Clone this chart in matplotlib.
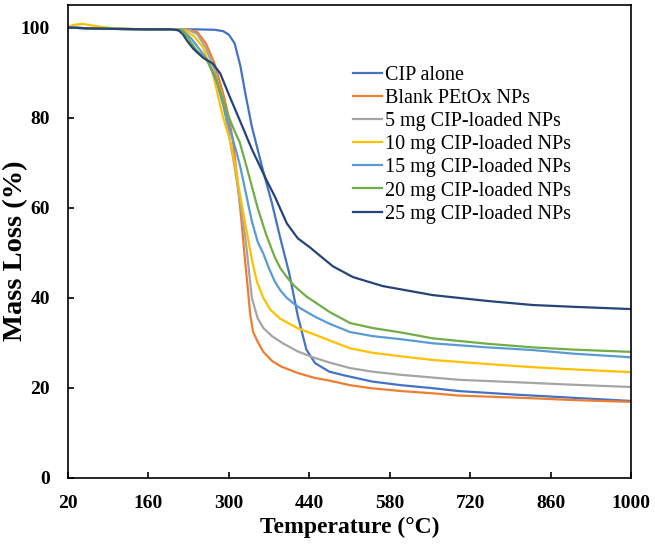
import matplotlib
matplotlib.use("Agg")
import matplotlib.pyplot as plt

# TGA curves (temperature in degC, mass in %)
t_cip = [20, 60, 100, 160, 200, 240, 275, 290, 300, 310, 320, 330, 340, 350, 360, 375, 390,
         405, 420, 435, 450, 475, 500, 550, 600, 650, 700, 800, 900, 1000]
m_cip = [100, 99.8, 99.7, 99.6, 99.6, 99.6, 99.5, 99.2, 98.4, 96.5, 91.5, 84.5, 78, 73, 68,
         61, 53, 45.5, 36, 28.5, 25.5, 23.6, 22.8, 21.4, 20.6, 20, 19.3, 18.5, 17.8, 17.1]

t_blank = [20, 60, 100, 160, 200, 230, 245, 260, 275, 290, 300, 307, 315, 322, 328, 333, 337,
           342, 350, 360, 375, 390, 420, 450, 476, 511, 550, 600, 655, 700, 829, 900, 1000]
m_blank = [100, 99.8, 99.7, 99.6, 99.6, 99.5, 99, 96.5, 92, 85.4, 80, 75, 66, 57, 48.5, 42,
           36.5, 32.5, 30.3, 28, 26, 24.8, 23.3, 22.2, 21.6, 20.6, 19.9, 19.3, 18.8, 18.3, 17.7,
           17.3, 16.9]

t_5mg = [20, 60, 100, 160, 200, 230, 245, 260, 275, 290, 300, 310, 320, 330, 335, 340, 350,
         360, 375, 394, 420, 446, 476, 511, 550, 600, 655, 700, 829, 900, 1000]
m_5mg = [100, 99.8, 99.7, 99.6, 99.6, 99.5, 98.5, 95.5, 90.5, 83, 76.5, 69, 61, 52, 46, 40,
         35.5, 33.3, 31.5, 29.9, 28.1, 26.8, 25.6, 24.4, 23.6, 22.9, 22.3, 21.8, 21.1, 20.7, 20.2]

t_10mg = [20, 30, 45, 60, 80, 100, 160, 200, 225, 240, 255, 272, 290, 302, 310, 320, 330, 340,
          349, 360, 372, 390, 419, 450, 476, 511, 550, 600, 655, 750, 829, 900, 1000]
m_10mg = [100, 100.6, 100.8, 100.5, 100.1, 99.8, 99.6, 99.6, 99.3, 98, 95.6, 89.8, 80, 75,
          70, 62.5, 55.5, 48.5, 43.5, 40, 37.4, 35.3, 33.3, 31.8, 30.5, 28.8, 27.8, 27, 26.2,
          25.3, 24.6, 24.1, 23.5]

t_15mg = [20, 60, 100, 160, 200, 220, 235, 250, 265, 280, 295, 305, 314, 320, 330, 340, 350,
          360, 370, 380, 390, 400, 412, 424, 450, 476, 511, 550, 600, 655, 750, 829, 900, 1000]
m_15mg = [100, 99.8, 99.7, 99.6, 99.6, 99.3, 97.5, 95, 92.2, 87.5, 80.5, 76, 72, 69, 63,
          57, 52.5, 49.8, 46.5, 43.6, 41.6, 40.1, 38.8, 37.7, 35.8, 34.2, 32.4, 31.5, 30.8,
          29.9, 29, 28.4, 27.6, 26.8]

t_20mg = [20, 60, 100, 160, 200, 220, 244, 262, 279, 297, 310, 319, 330, 350, 365, 380, 390,
          401, 412, 424, 436, 476, 511, 550, 600, 655, 750, 829, 900, 1000]
m_20mg = [100, 99.8, 99.7, 99.6, 99.6, 99.3, 94.9, 92.7, 88.2, 81, 77, 74.5, 69.5, 60, 54,
          49, 46.5, 44.6, 42.9, 41.5, 40.2, 36.8, 34.4, 33.3, 32.3, 31, 29.8, 29, 28.5, 28]

t_25mg = [20, 60, 100, 160, 200, 212, 220, 227, 238, 255, 272, 285, 302, 319, 340, 366, 380,
          401, 420, 441, 459, 481, 516, 568, 655, 750, 829, 900, 1000]
m_25mg = [100, 99.8, 99.7, 99.6, 99.6, 99.4, 98.5, 97.1, 95.3, 93.3, 92, 89.8, 84.5, 79.4,
          73, 66, 62.5, 56.5, 53.2, 51.2, 49.3, 47, 44.6, 42.6, 40.6, 39.3, 38.4, 38, 37.5]

labels = ["CIP alone", "Blank PEtOx NPs", "5 mg CIP-loaded NPs", "10 mg CIP-loaded NPs",
          "15 mg CIP-loaded NPs", "20 mg CIP-loaded NPs", "25 mg CIP-loaded NPs"]
colors = ["#4472C4", "#ED7D31", "#A5A5A5", "#FFC000", "#5B9BD5", "#70AD47", "#264478"]

x_ticks = [20, 160, 300, 440, 580, 720, 860, 1000]
y_ticks = [0, 20, 40, 60, 80, 100]

plt.rcParams["font.family"] = ["Liberation Serif", "DejaVu Serif"]

fig = plt.figure(figsize=(6.55, 5.44), dpi=100)
ax = fig.add_axes([68 / 655, 1 - 478 / 544, 563 / 655, 473 / 544])

curves = [(t_cip, m_cip), (t_blank, m_blank), (t_5mg, m_5mg), (t_10mg, m_10mg),
          (t_15mg, m_15mg), (t_20mg, m_20mg), (t_25mg, m_25mg)]
for (t, m), lab, col in zip(curves, labels, colors):
    ax.plot(t, m, color=col, lw=1.6, label=lab)

ax.set_xlim(20, 1000)
ax.set_ylim(0, 105)
ax.set_xticks(x_ticks)
ax.set_yticks(y_ticks)
ax.tick_params(direction="in", length=4, width=1.2, labelsize=14)
ax.tick_params(axis="x", pad=12)
ax.tick_params(axis="y", pad=13)
for lbl in ax.get_xticklabels() + ax.get_yticklabels():
    lbl.set_fontweight("bold")
for sp in ax.spines.values():
    sp.set_linewidth(1.2)

ax.set_xlabel("Temperature (°C)", fontsize=17, fontweight="bold", labelpad=4)
ax.set_ylabel("Mass Loss (%)", fontsize=20.5, fontweight="bold", va="center")
ax.yaxis.set_label_coords(-0.093, 0.48)

ax.legend(loc="upper left", bbox_to_anchor=(0.506, 0.8715), frameon=False, fontsize=14.5,
          handlelength=1.45, handletextpad=0.15, labelspacing=0.2, borderpad=0,
          borderaxespad=0)

fig.savefig("out.png", dpi=100)
